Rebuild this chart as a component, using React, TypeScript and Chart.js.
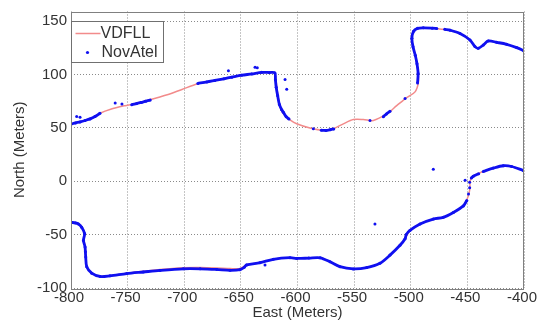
import React, { useEffect, useRef } from 'react';
import { Chart, registerables } from 'chart.js';

Chart.register(...registerables);

type P = [number, number];

// ---- axes / labels ----
const xTicks = [-800, -750, -700, -650, -600, -550, -500, -450, -400];
const yTicks = [-100, -50, 0, 50, 100, 150];
const xTitle = 'East (Meters)';
const yTitle = 'North (Meters)';
const seriesNames = ['VDFLL', 'NovAtel'];

// ---- VDFLL track (East, North in meters) ----
const vdfllUpper: P[] = [
  [-800, 53.8], [-793.6, 55.4], [-787.6, 57], [-781, 59.5], [-774.4, 63.7], [-765, 67.5],
  [-752.3, 70.8], [-746, 72], [-738, 74], [-730, 76.5], [-715, 81], [-702, 86], [-688, 91.3],
  [-673, 94.4], [-658, 97.5], [-645, 99.8], [-632, 101.6], [-621, 101.8], [-619, 95],
  [-618.4, 89.2], [-617, 78.4], [-614.5, 67], [-611, 61.5], [-606, 57], [-600.7, 53.8],
  [-589, 49.8], [-577.2, 47.7], [-568.4, 49.2], [-559.5, 53.8], [-550.7, 57.8], [-541.9, 57.8],
  [-533, 56.9], [-521.3, 63], [-512.4, 70.8], [-503.6, 78.4], [-496.2, 83.7], [-493.3, 92.3],
  [-493.5, 101.5], [-494.7, 110.7], [-496, 118], [-498, 126], [-499, 134], [-497.5, 140.5],
  [-494, 143.2], [-488.9, 143.7], [-477, 143], [-465.3, 141.5], [-456.5, 138.4], [-447.7, 132.3],
  [-443.3, 126.1], [-440.4, 124.5], [-436, 127.6], [-431.5, 131.4], [-424.1, 130.1],
  [-415.3, 128.3], [-406.5, 125.2], [-400, 122.1],
];
const vdfllLower: P[] = [
  [-800, -38.5], [-793.5, -40], [-790.6, -43], [-788, -49], [-788.5, -55], [-787.6, -61.5],
  [-787, -71], [-786, -80], [-781.7, -86], [-774.4, -89.2], [-765.6, -88.6], [-750.8, -86.1],
  [-736.2, -84.4], [-721.4, -82.6], [-700.8, -81], [-686, -80.8], [-671.3, -81.2],
  [-659.6, -81.8], [-650.8, -81.8], [-644.9, -78.4], [-633.1, -76.3], [-621.4, -73.1],
  [-606.6, -71.6], [-600.7, -72.3], [-580, -71.7], [-571.3, -75.4], [-562.5, -80],
  [-550.7, -82.1], [-538.9, -80.9], [-527.2, -76.8], [-518.3, -69.2], [-509.5, -60],
  [-505, -53.8], [-500.7, -46.1], [-491.8, -40], [-480.1, -35.4], [-471.3, -33.8],
  [-462.4, -29.2], [-453.6, -23.1], [-449.2, -13.8], [-447.7, -6.2], [-447.7, 0],
  [-444.8, 4.6], [-436, 9.2], [-427.1, 12.3], [-418.3, 14.5], [-410.9, 13.8], [-400.6, 10.1],
];

// ---- NovAtel fixes: continuous stretches ----
const novatelWestStart: P[] = [
  [-800, 53.5], [-796, 54.6], [-792, 55.6], [-787.6, 56.9], [-783.2, 58.4], [-778.8, 60.6], [-774.4, 63.7],
];
const novatelWestMid: P[] = [
  [-746.4, 71.7], [-742, 72.8], [-738, 73.8], [-734, 75], [-730, 76],
];
const novatelNorthRoad: P[] = [
  [-688, 91.6], [-680, 93], [-673, 94.4], [-665, 96], [-658, 97.5], [-649.3, 99.3], [-640.4, 100.5],
  [-631.6, 102], [-625, 101.8], [-620, 101.5], [-619.5, 95], [-618.8, 88], [-617.5, 80],
  [-616, 72], [-614, 67], [-612.5, 64.6], [-610, 60.5], [-607.5, 58.2],
];
const novatelLoopBottom: P[] = [[-579, 47.8], [-575, 47.6], [-571, 48.3], [-568, 49]];
const novatelLoopRise: P[] = [[-524.2, 60.5], [-521.5, 63], [-518.3, 65.5]];
const novatelNorthEast: P[] = [
  [-494, 92], [-493.5, 101], [-494.5, 110], [-496, 118], [-498, 126], [-499, 134], [-497.5, 140.5],
  [-494, 143.2], [-488.9, 143.7], [-481, 143.4], [-477, 143],
];
const novatelNorthEdge: P[] = [
  [-470, 142.3], [-465.3, 141.5], [-456.5, 138.4], [-447.7, 132.3], [-443.3, 126.1], [-440.4, 124.5],
  [-436, 127.6], [-431.5, 131.4], [-424.1, 130.1], [-415.3, 128.3], [-406.5, 125.2], [-400, 122.1],
];
const novatelSouth: P[] = [
  [-800, -38.5], [-796, -39], [-793.5, -40], [-790.6, -43], [-788, -49], [-789, -55.4],
  [-787.6, -61.5], [-787.3, -66], [-787, -71], [-786.1, -80], [-781.7, -86.1], [-774.4, -89.2],
  [-765.6, -88.6], [-750.8, -86.5], [-736.2, -85], [-721.4, -83.5], [-700.8, -82], [-686, -82],
  [-671.3, -82.6], [-659.6, -83.4], [-650.8, -82.8], [-647, -80.5], [-644.9, -78.4], [-633.1, -76.3],
  [-621.4, -73.1], [-606.6, -71.6], [-600.7, -72.3], [-590, -72], [-580, -71.7], [-571.3, -75.4],
  [-562.5, -80], [-550.7, -82.1], [-538.9, -80.9], [-527.2, -76.8], [-518.3, -69.2], [-509.5, -60],
  [-505, -53.8], [-504, -50], [-500.7, -46.1], [-491.8, -40], [-480.1, -35.4], [-471.3, -33.8],
  [-462.4, -29.2], [-453.6, -23.1], [-450.5, -18],
];
const novatelSouthEast: P[] = [[-446.5, 3], [-444.8, 4.6], [-440, 7]];
const novatelEastEnd: P[] = [[-436, 9.2], [-427.1, 12.3], [-418.3, 14.5], [-410.9, 13.8], [-400.6, 10.1]];

// ---- NovAtel isolated fixes ----
const novatelStray: P[] = [
  [-795, 60.6], [-792, 60], [-761, 73.2], [-755, 72.3], [-661, 103.6], [-637.5, 106.7],
  [-635.5, 106.3], [-611, 95.4], [-609.5, 86.1], [-586, 49.2], [-536, 56.9], [-505, 77.5],
  [-628.7, -78.4], [-531.6, -40], [-480.1, 11.3], [-452, 0.9], [-449, -12], [-448, -6], [-448, -1],
];

const FONT = 'Liberation Sans, Arial, Helvetica, sans-serif';
const RED = '#f28b8b';
const BLUE = '#1010f0';
const TEXT = '#333333';

function joinSegments(segs: P[][]) {
  const out: { x: number; y: number }[] = [];
  segs.forEach((s, i) => {
    if (i > 0) out.push({ x: NaN, y: NaN });
    s.forEach(([x, y]) => out.push({ x, y }));
  });
  return out;
}

const framePlugin = {
  id: 'frameAndLegend',
  beforeDraw(chart: any) {
    const { ctx } = chart;
    ctx.save();
    ctx.fillStyle = '#ffffff';
    ctx.fillRect(0, 0, chart.width, chart.height);
    ctx.restore();
  },
  afterDraw(chart: any) {
    const { ctx, chartArea: a } = chart;
    ctx.save();
    // axes box
    ctx.strokeStyle = '#808080';
    ctx.lineWidth = 1;
    ctx.strokeRect(Math.round(a.left) + 0.5, Math.round(a.top) + 0.5, Math.round(a.right - a.left) - 1, Math.round(a.bottom - a.top));
    // legend box
    const lx = Math.round(a.left) + 0.5;
    const ly = Math.round(chart.scales.y.getPixelForValue(150)) + 0.5;
    const lw = 92;
    const lh = 41;
    ctx.fillStyle = '#ffffff';
    ctx.fillRect(lx, ly, lw, lh);
    ctx.strokeStyle = '#707070';
    ctx.strokeRect(lx, ly, lw, lh);
    const ds = chart.data.datasets;
    ctx.font = `16px ${FONT}`;
    ctx.textBaseline = 'middle';
    ctx.textAlign = 'left';
    ctx.fillStyle = TEXT;
    // entry 1: line
    ctx.strokeStyle = ds[0].borderColor;
    ctx.lineWidth = 1.5;
    ctx.beginPath();
    ctx.moveTo(lx + 4, ly + 12);
    ctx.lineTo(lx + 29, ly + 12);
    ctx.stroke();
    ctx.fillText(ds[0].label, lx + 29, ly + 12.5);
    // entry 2: dot
    ctx.fillStyle = ds[1].pointBackgroundColor;
    ctx.beginPath();
    ctx.arc(lx + 16, ly + 31, 1.6, 0, Math.PI * 2);
    ctx.fill();
    ctx.fillStyle = TEXT;
    ctx.fillText(ds[1].label, lx + 30, ly + 31.5);
    ctx.restore();
  },
};

export default function App() {
  const ref = useRef<HTMLCanvasElement | null>(null);

  useEffect(() => {
    document.body.style.margin = '0';
    const canvas = ref.current;
    if (!canvas) return;
    const chart = new Chart(canvas, {
      type: 'scatter',
      data: {
        datasets: [
          {
            label: seriesNames[0],
            data: joinSegments([vdfllUpper, vdfllLower]),
            showLine: true,
            borderColor: RED,
            borderWidth: 1.5,
            pointRadius: 0,
            pointHoverRadius: 0,
            tension: 0.3,
            spanGaps: false,
            order: 2,
          } as any,
          {
            label: seriesNames[1],
            data: joinSegments([
              novatelWestStart, novatelWestMid, novatelNorthRoad, novatelLoopBottom, novatelLoopRise,
              novatelNorthEast, novatelNorthEdge, novatelSouth, novatelSouthEast, novatelEastEnd,
              ...novatelStray.map((p) => [p]),
            ]),
            showLine: true,
            borderColor: BLUE,
            borderWidth: 2.8,
            pointRadius: 1.5,
            pointBorderWidth: 0,
            pointBackgroundColor: BLUE,
            pointHoverRadius: 1.5,
            tension: 0.3,
            spanGaps: false,
            order: 1,
          } as any,
        ],
      },
      options: {
        responsive: false,
        animation: false,
        events: [],
        layout: { padding: { left: 0, right: 22, top: 7, bottom: 0 } },
        plugins: {
          legend: { display: false },
          tooltip: { enabled: false },
        },
        scales: {
          x: {
            type: 'linear',
            min: -800,
            max: -400,
            afterBuildTicks: (s: any) => {
              s.ticks = xTicks.map((v) => ({ value: v }));
            },
            afterFit: (s: any) => {
              s.height = 33;
            },
            ticks: {
              font: { family: FONT, size: 15, lineHeight: 1.2 },
              color: TEXT,
              padding: 1,
              maxRotation: 0,
              autoSkip: false,
              labelOffset: -2,
            },
            grid: { color: '#8a8a8a', lineWidth: 1, drawTicks: false },
            border: { display: false, dash: [1, 2] },
            title: {
              display: true,
              text: xTitle,
              color: TEXT,
              font: { family: FONT, size: 15, lineHeight: 1 },
              padding: { top: 0, bottom: 0.5 },
            },
          },
          y: {
            type: 'linear',
            min: -100,
            max: 159,
            afterBuildTicks: (s: any) => {
              s.ticks = yTicks.map((v) => ({ value: v }));
            },
            afterFit: (s: any) => {
              s.width = 71;
            },
            ticks: {
              font: { family: FONT, size: 15, lineHeight: 1 },
              color: TEXT,
              padding: 4,
              autoSkip: false,
            },
            grid: { color: '#8a8a8a', lineWidth: 1, drawTicks: false },
            border: { display: false, dash: [1, 2] },
            title: {
              display: true,
              text: yTitle,
              color: TEXT,
              font: { family: FONT, size: 15, lineHeight: 1 },
              padding: { top: 12.5, bottom: 0 },
            },
          },
        },
      },
      plugins: [framePlugin],
    } as any);
    return () => chart.destroy();
  }, []);

  return <canvas ref={ref} width={546} height={321} style={{ display: 'block' }} />;
}
